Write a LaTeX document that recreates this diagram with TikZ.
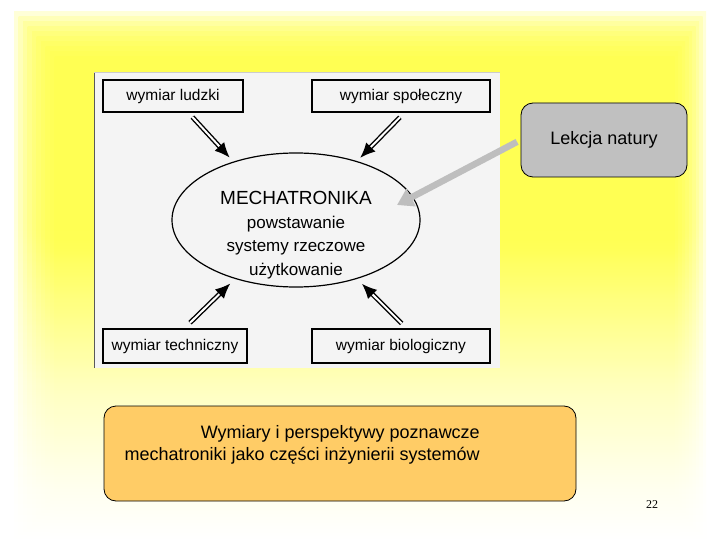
\documentclass[tikz,border=0pt]{standalone}
\usepackage{fontspec}
\setmainfont{Liberation Sans}
\newfontfamily\numfont{Liberation Serif}
\usepackage{tikz}
\usetikzlibrary{arrows.meta, calc, positioning, shapes.geometric}
\definecolor{fondjaune}{RGB}{255,255,64}
\definecolor{papier}{RGB}{244,244,244}
\definecolor{orangecadre}{RGB}{255,204,102}
\definecolor{griscadre}{RGB}{192,192,192}
\definecolor{grisfleche}{RGB}{190,190,190}
\pgfdeclareverticalshading{fondslide}{100bp}{color(0bp)=(white); color(25bp)=(white); color(30bp)=(fondjaune!8); color(40bp)=(fondjaune!35); color(55bp)=(fondjaune); color(100bp)=(fondjaune)}

\begin{document}
\begin{tikzpicture}[x=1pt, y=-1pt,
		dim/.style={draw, line width=1.3pt, fill=papier, inner sep=0pt, font=\fontsize{15.5}{18}\selectfont},
		core/.style={ellipse, draw, line width=1.2pt, fill=papier, minimum width=248pt, minimum height=134pt, inner sep=0pt},
		coretext/.style={align=center, font=\fontsize{17}{23.5}\selectfont},
		dimarrow/.style={draw, double, double distance=2pt, line width=1.4pt, -{Latex[length=15pt, width=13pt]}},
		natarrow/.style={draw=grisfleche, line width=6.5pt, -{Triangle[length=16pt, width=19pt]}},
		slidebox/.style={draw, line width=0.8pt, rounded corners=12pt},
		slidetext/.style={font=\fontsize{18}{22}\selectfont}
		]
		\useasboundingbox (0,0) rectangle (720,540);
		
		% Le fond
		\fill[white] (0,0) rectangle (720,540);
		\foreach \k in {0,...,9}
			\shade[shading=fondslide, fill opacity=0.2] (14+4.5*\k, 12+5*\k) rectangle (706-3.5*\k, 540);
		
		% L'image
		\fill[papier] (94,72) rectangle (500,368);
		\draw[black!65, line width=1pt] (94,368) -- (94,72);
		\draw[black!20, line width=0.6pt] (94,72) -- (500,72);
		
		% Les cadres
		\node[dim, minimum width=140pt, minimum height=32pt] (lud) at (173,96) {wymiar ludzki};
		\node[dim, minimum width=178pt, minimum height=32pt] (spo) at (401,96) {wymiar społeczny};
		\node[dim, minimum width=144pt, minimum height=34pt] (tech) at (175,346) {wymiar techniczny};
		\node[dim, minimum width=178pt, minimum height=34pt] (bio) at (401,346) {wymiar biologiczny};
		\node[core] (core) at (296,220) {};
		\node[coretext] (coretxt) at (296,235) {{\fontsize{19}{23}\selectfont MECHATRONIKA}\\powstawanie\\systemy rzeczowe\\użytkowanie};
		
		% Les flèches
		\draw[dimarrow, shorten <=6pt, shorten >=5.5pt] (lud) -- (core.137);
		\draw[dimarrow, shorten <=6.5pt, shorten >=4.6pt] ([xshift=3.5pt]spo.south) -- (core.44);
		\draw[dimarrow, shorten <=8pt, shorten >=6.6pt] ([xshift=9.3pt]tech.north) -- (core.224);
		\draw[dimarrow, shorten <=7pt, shorten >=6.9pt] ([xshift=5.6pt]bio.north) -- (core.316);
		
		% La remarque
		\node[slidebox, fill=griscadre, minimum width=166pt, minimum height=74pt, slidetext] (lek) at (604,140) {Lekcja natury};
		\coordinate (natpt) at (397,205);
		\draw[natarrow, shorten <=4pt] (lek.west) -- (natpt);
		
		% Le titre
		\node[slidebox, fill=orangecadre, minimum width=472pt, minimum height=95pt] (capbox) at (340,453.5) {};
		\node[slidetext, align=right, anchor=east, inner sep=0pt] (captxt) at (480,445) {Wymiary i perspektywy poznawcze\\mechatroniki jako części inżynierii systemów};
		\node[font=\numfont\fontsize{12}{14}\selectfont] (pgno) at (652,505) {22};
	\end{tikzpicture}
\end{document}
